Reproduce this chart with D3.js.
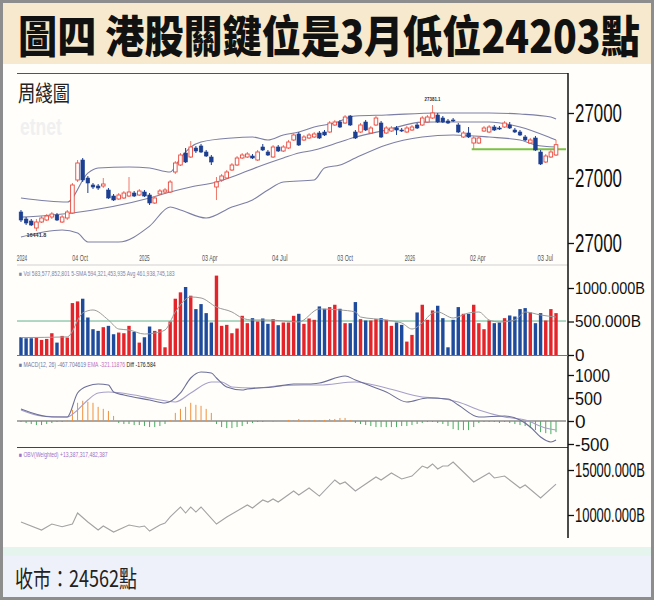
<!DOCTYPE html>
<html><head><meta charset="utf-8">
<script src="https://cdn.jsdelivr.net/npm/d3@7"></script>
<style>body{margin:0;background:#fff}svg{display:block}</style>
</head><body><svg id="c" width="654" height="600"></svg>
<script>
// ---------- DATA ----------
const titleText = "圖四 港股關鍵位是3月低位24203點";
const panelTitle = "周綫圖";
const footerText = "收市：24562點";
// weekly candles [open, high, low, close]
const candles = [
[19385,19538,18615,18769],[18846,19000,18385,18538],[18692,18846,18308,18385],[18154,18846,17923,18615],[18615,19077,18538,18923],
[18769,19231,18692,19077],[19000,19385,18846,19231],[19154,19308,18692,18769],[18615,19154,18538,19000],[18923,19538,18769,19385],
[19308,21615,19231,21462],[21846,23385,21692,23154],[23385,23538,21692,21846],[22000,22154,20846,21615],[21462,21615,21154,21308],
[21385,21538,21077,21231],[21385,22000,21231,21538],[21077,21231,20385,20462],[20615,20769,20231,20308],[20385,20846,20308,20692],
[20462,21000,20385,20846],[20615,22077,20538,20923],[20846,21000,20538,20615],[20692,21154,20615,21000],[20923,21077,20538,20615],
[20692,20846,19923,20077],[20077,20615,20000,20462],[20769,21154,20692,21000],[20923,21231,20846,21077],[20923,21846,20846,21692],
[22462,23308,22308,23154],[23000,23923,22923,23769],[23923,24308,23154,23231],[23615,24846,23538,24385],[24308,24462,23923,24077],
[24462,24615,23923,24000],[24000,24154,23615,23692],[23615,23769,23000,23231],[21308,22077,20308,21692],[21846,22308,21692,22154],
[22000,22615,21923,22462],[22615,23154,22538,23000],[23000,23692,22923,23538],[23538,23923,23462,23769],[23615,24000,23538,23846],
[23692,23846,23462,23538],[23385,24154,23308,24000],[24385,24615,24077,24154],[24000,24154,23692,23769],[23615,24538,23538,24385],
[24385,24538,24000,24077],[24077,24538,24000,24385],[24308,24923,24231,24769],[24923,25462,24846,25308],[25385,25538,24462,24538],
[24923,25308,24846,25154],[25077,25462,25000,25308],[25154,25538,25077,25385],[25462,25615,25000,25077],[25538,25692,25231,25308],
[25538,26385,25462,26231],[26077,26462,26000,26308],[26308,26462,25846,25923],[26231,26846,26154,26692],[26769,26846,26000,26077],
[25538,25692,25000,25077],[25538,26231,25462,26077],[26308,26462,25615,25692],[25462,26000,25385,25846],[26077,26769,26000,26615],
[26231,26385,25077,25154],[25462,26000,25385,25846],[25615,26000,25538,25846],[25846,26000,25308,25692],[25692,25846,25538,25615],
[25538,26000,25462,25846],[25692,26077,25615,25923],[26077,26231,25769,25846],[26077,26769,26000,26615],[26308,26846,26231,26692],
[26615,27615,26538,27000],[26846,27000,26231,26308],[26615,26769,26231,26308],[26385,26538,26154,26231],[26462,26615,26308,26385],
[26077,26231,25462,25538],[25154,25615,25077,25462],[25462,25923,25077,25154],[24692,25231,24203,25077],[24692,25231,24615,25077],
[25615,26000,25538,25846],[25538,26077,25462,25923],[25923,26077,25615,25692],[25846,26000,25692,25769],[25923,26385,25846,26231],
[26077,26308,25769,25846],[25692,25846,25462,25538],[25538,25692,25231,25308],[25154,25308,24846,24923],[24692,25077,24615,24923],
[25077,25231,24077,24154],[24000,24154,23000,23077],[23231,23846,23154,23692],[23615,24154,23538,24000],[23769,24923,23692,24562]
];
// Bollinger bands [week index, value]
const bbUpper = [[0,20460],[9,20150],[13,22380],[15,22770],[21,22850],[25,22770],[29,22460],[31,23540],[33,24380],[35,24770],[41,25080],[45,25150],[48,24920],[51,25310],[54,25540],[57,25920],[61,26230],[65,26770],[71,26850],[81,27000],[91,27000],[97,26920],[103,26690],[104,26540]];
const bbMiddle = [[0,18990],[10,19310],[25,20460],[29,20920],[33,21310],[38,21690],[42,22230],[46,22850],[51,23540],[54,23920],[57,24150],[62,24770],[65,25150],[71,25690],[78,26300],[84,26310],[91,26310],[97,25920],[103,25080],[104,24920]];
const bbLower = [[0,17460],[8,18000],[11,17770],[13,17080],[19,17080],[25,18300],[29,19770],[31,19540],[36,18920],[41,19770],[45,20310],[48,21080],[51,21690],[57,21850],[59,22770],[62,23000],[65,23540],[71,24540],[78,25150],[84,25310],[91,25150],[97,24920],[100,24540],[104,24380]];
const supportLevel = 24203;
const supportFrom = 88;
const peakLabel = "27381.1", lowLabel = "16441.8";
// volume (B)
const volume = [265,250,250,260,225,240,325,185,285,260,775,800,840,560,385,360,415,435,310,335,
325,435,345,185,265,425,360,385,115,500,840,935,1015,885,685,760,625,485,1185,435,
450,325,395,585,475,550,500,545,465,535,445,485,485,585,615,465,545,525,
725,690,715,750,690,475,475,790,535,515,515,535,550,525,435,485,450,200,300,635,
750,525,665,735,550,115,525,715,615,615,750,475,385,515,475,485,550,590,575,685,
700,635,475,625,515,685,625];
const volMA = [[0,260],[9,270],[12,627],[14,672],[17,522],[19,388],[21,373],[24,313],[26,328],[28,373],[30,642],[33,866],[35,851],[38,716],[41,642],[43,552],[45,522],[48,522],[54,493],[58,687],[62,672],[65,642],[66,567],[71,522],[74,478],[76,388],[78,478],[80,627],[81,642],[84,552],[87,627],[89,642],[91,522],[93,493],[96,522],[98,642],[101,597],[104,567]];
const volAvg = 507;
// MACD
const macdLine = [[0,261],[6,87],[9,87],[11,609],[13,761],[15,804],[17,783],[18,630],[20,565],[25,457],[28,391],[31,609],[33,935],[35,1065],[37,1043],[38,935],[40,739],[43,674],[44,696],[49,739],[53,804],[56,804],[58,826],[63,978],[65,891],[69,717],[71,630],[75,413],[79,500],[83,478],[85,348],[89,87],[94,109],[97,22],[99,-130],[101,-348],[103,-457],[104,-413]];
const signalLine = [[0,239],[4,109],[9,87],[11,239],[13,457],[15,609],[17,630],[22,565],[26,478],[30,413],[33,609],[37,848],[39,848],[41,739],[45,717],[50,761],[55,783],[58,783],[65,848],[71,717],[78,522],[81,500],[85,413],[89,239],[94,87],[98,22],[102,-152],[104,-196]];
const macdHist = [-22,-44,-66,-88,-88,-66,-44,-22,-22,22,
242,396,440,418,396,308,264,220,110,-44,
-66,-66,-88,-88,-110,-132,-132,-110,-66,22,
176,264,308,396,352,330,264,176,-66,-132,
-154,-154,-132,-110,-66,-44,-22,-22,0,-11,
0,0,22,22,44,22,22,22,22,22,
44,44,66,66,22,-44,-66,-88,-110,-132,
-132,-132,-132,-132,-110,-110,-88,-66,-44,-22,
-22,-44,-66,-110,-176,-198,-198,-198,-132,-44,
-22,-22,-22,-44,-22,-44,-66,-88,-110,-154,
-198,-242,-264,-286,-242];
// OBV (B)
const obv = [[0,9220],[4,8330],[6,9000],[8,8700],[10,9000],[11,10220],[13,9220],[15,8330],[16,8780],[18,8110],[21,8890],[23,8670],[24,8780],[25,8220],[27,8890],[28,9110],[29,9780],[31,10890],[32,10220],[33,10890],[34,10330],[35,10890],[38,9000],[40,9780],[44,11110],[45,10780],[47,11670],[48,11440],[49,11780],[50,11440],[53,12670],[54,12220],[56,13000],[58,12100],[61,13890],[62,13440],[63,13670],[65,12670],[69,14220],[70,13890],[72,14670],[74,14000],[76,14330],[78,15440],[79,15220],[80,15670],[81,15110],[82,15440],[83,15440],[84,15890],[88,13670],[91,14670],[92,14110],[94,14330],[97,13000],[98,13330],[101,11890],[104,13440]];
// axes
const dateTicks = [0.2,11.5,24,36.7,50.3,63,75.6,88.8,101.9];
const dateLabels = ["2024","04 Oct","2025","03 Apr","04 Jul","03 Oct","2026","02 Apr","03 Jul"];
const priceTicks = [27000,22000,17000];
const priceTickLabels = ["27000","27000","27000"];
const volTicks = [1000,500,0];
const volTickLabels = ["1000.000B","500.000B","0"];
const macdTicks = [1000,500,0,-500];
const macdTickLabels = ["1000","500","0","-500"];
const obvTicks = [15000,10000];
const obvTickLabels = ["15000.000B","10000.000B"];
const legVol = "\u25A0 Vol 583,577,852,801  5-SMA 594,321,453,935  Avg 461,938,745,183";
const legMacd = ["\u25A0 MACD(12, 26) -467.704619 ","EMA -321.11876 ","Diff -176.584"];
const legObv = "\u25A0 OBV(Weighted) +13,387,317,482,387";

// ---------- DRAW ----------
const W=654,H=600;
const svg=d3.select('#c');
const FONT="'Liberation Sans', Arial, sans-serif";
const CJK="'Noto Sans CJK TC','Noto Sans CJK SC',sans-serif";
// horizontally squeeze a text to a given width, keeping its anchor x fixed
function fit(sel,w){
  sel.each(function(){
    const t=d3.select(this); const nat=this.getComputedTextLength();
    if(!nat||!w) return;
    const sx=w/nat; const ax=+t.attr('x')||0;
    t.attr('transform',`translate(${ax*(1-sx)},0) scale(${sx},1)`);
  });
}

svg.append('rect').attr('width',W).attr('height',H).attr('fill','#fffefb');
svg.append('rect').attr('x',0).attr('y',0).attr('width',W).attr('height',64).attr('fill','#f6e9cd');
svg.append('rect').attr('x',0).attr('y',547).attr('width',W).attr('height',9).attr('fill','#e5f5ee');
svg.append('rect').attr('x',0).attr('y',556).attr('width',W).attr('height',H-556).attr('fill','#eef1f9');
svg.append('rect').attr('x',1.5).attr('y',1.5).attr('width',W-3).attr('height',H-3).attr('fill','none').attr('stroke','#8d8d8d').attr('stroke-width',3);

svg.append('text').attr('x',18).attr('y',53).attr('font-family',CJK).attr('font-weight',900).attr('font-size',44).attr('fill','#111').text(titleText).call(fit,622);
svg.append('text').attr('x',15).attr('y',587).attr('font-family',CJK).attr('font-size',23).attr('fill','#222').text(footerText).call(fit,122);

const n=candles.length;
const x=d3.scaleLinear().domain([-0.5,n-0.5]).range([18.4,558.6]);
const yP=d3.scaleLinear().domain([17000,27000]).range([243,113]);
const yV=d3.scaleLinear().domain([0,1000]).range([355,288]);
const yM=d3.scaleLinear().domain([0,1000]).range([421,375]);
const yO=d3.scaleLinear().domain([10000,15000]).range([515,470]);
const L=17, R=566, AX=568;

// panel frame lines
svg.append('line').attr('x1',L).attr('x2',AX).attr('y1',73.5).attr('y2',73.5).attr('stroke','#555').attr('stroke-width',1.2);
svg.append('line').attr('x1',L).attr('x2',AX).attr('y1',265).attr('y2',265).attr('stroke','#d0d0d0');
svg.append('line').attr('x1',L).attr('x2',AX).attr('y1',447.5).attr('y2',447.5).attr('stroke','#444').attr('stroke-width',1.2);
svg.append('line').attr('x1',AX).attr('x2',AX).attr('y1',73).attr('y2',538).attr('stroke','#111').attr('stroke-width',1.5);

svg.append('text').attr('x',18).attr('y',101).attr('font-family',CJK).attr('font-size',22).attr('fill','#222').text(panelTitle).call(fit,52);
svg.append('text').attr('x',20).attr('y',135).attr('font-family',FONT).attr('font-weight','bold').attr('font-size',24).attr('fill','#f0f0f0').text('etnet').call(fit,42);

// Bollinger
const line=d3.line().x(d=>x(d[0])).curve(d3.curveMonotoneX);
[bbUpper,bbMiddle,bbLower].forEach(s=>{
  svg.append('path').datum(s).attr('d',line.y(d=>yP(d[1]))).attr('fill','none').attr('stroke','#7c7fa5').attr('stroke-width',1.1);
});
// support line
svg.append('line').attr('x1',x(supportFrom)-2).attr('x2',R).attr('y1',yP(supportLevel)).attr('y2',yP(supportLevel)).attr('stroke','#7dc142').attr('stroke-width',2);

// candles
const UP='#e8463a', DN='#1d3f91', cw=3.6;
const cg=svg.append('g');
candles.forEach((c,i)=>{
  const up=c[3]>=c[0], col=up?UP:DN, cx=x(i);
  cg.append('line').attr('x1',cx).attr('x2',cx).attr('y1',yP(c[1])).attr('y2',yP(c[2])).attr('stroke',up?'#ee7a6a':DN).attr('stroke-width',1);
  const top=yP(Math.max(c[0],c[3])), bot=yP(Math.min(c[0],c[3]));
  cg.append('rect').attr('x',cx-cw/2).attr('y',top).attr('width',cw).attr('height',Math.max(1,bot-top))
    .attr('fill',up?'#fff':DN).attr('stroke',col).attr('stroke-width',up?0.9:0.6);
});
// high / low markers
const hiIdx=d3.maxIndex(candles,d=>d[1]), loIdx=d3.minIndex(candles,d=>d[2]);
svg.append('text').attr('x',x(hiIdx)).attr('y',yP(candles[hiIdx][1])-4).attr('text-anchor','middle').attr('font-family',FONT).attr('font-size',6).attr('font-weight','bold').attr('fill','#333').text(peakLabel).call(fit,16);
svg.append('text').attr('x',x(loIdx)).attr('y',yP(candles[loIdx][2])+6).attr('text-anchor','middle').attr('font-family',FONT).attr('font-size',6).attr('font-weight','bold').attr('fill','#333').text(lowLabel).call(fit,20);

// date labels
dateTicks.forEach((t,i)=>{
  svg.append('text').attr('x',x(t)).attr('y',261).attr('text-anchor','middle').attr('font-family',FONT).attr('font-size',8.5).attr('fill','#555').text(dateLabels[i]).call(fit,dateLabels[i].length*2.6);
});

// volume
svg.append('text').attr('x',19).attr('y',276).attr('font-family',FONT).attr('font-size',6.5).attr('fill','#7d86aa').text(legVol).call(fit,156);
svg.append('line').attr('x1',L).attr('x2',R).attr('y1',yV(volAvg)).attr('y2',yV(volAvg)).attr('stroke','#5fb38c').attr('stroke-width',1);
svg.append('g').selectAll('rect').data(volume).join('rect')
  .attr('x',(d,i)=>x(i)-1.7).attr('width',3.4).attr('y',d=>yV(d)).attr('height',d=>yV(0)-yV(d))
  .attr('fill',(d,i)=>candles[i][3]>=candles[i][0]?'#e3252b':'#1f4b9c');
svg.append('path').datum(volMA).attr('d',d3.line().x(d=>x(d[0])).y(d=>yV(d[1])).curve(d3.curveMonotoneX)).attr('fill','none').attr('stroke','#9a9a9a').attr('stroke-width',1);
svg.append('line').attr('x1',L).attr('x2',AX).attr('y1',yV(0)+0.5).attr('y2',yV(0)+0.5).attr('stroke','#6b7396').attr('stroke-width',1);

// MACD
const lm=svg.append('text').attr('x',19).attr('y',367).attr('font-family',FONT).attr('font-size',6.5);
lm.append('tspan').attr('fill','#6d78a8').text(legMacd[0]);
lm.append('tspan').attr('fill','#c070c0').text(legMacd[1]);
lm.append('tspan').attr('fill','#222').text(legMacd[2]);
lm.call(fit,137);
svg.append('line').attr('x1',L).attr('x2',R).attr('y1',yM(0)).attr('y2',yM(0)).attr('stroke','#555').attr('stroke-width',1);
svg.append('g').selectAll('line').data(macdHist).join('line')
  .attr('x1',(d,i)=>x(i)).attr('x2',(d,i)=>x(i)).attr('y1',yM(0)).attr('y2',d=>yM(d))
  .attr('stroke',d=>d>=0?'#f0903c':'#49ab62').attr('stroke-width',1);
svg.append('path').datum(signalLine).attr('d',d3.line().x(d=>x(d[0])).y(d=>yM(d[1])).curve(d3.curveMonotoneX)).attr('fill','none').attr('stroke','#a69fc8').attr('stroke-width',1.1);
svg.append('path').datum(macdLine).attr('d',d3.line().x(d=>x(d[0])).y(d=>yM(d[1])).curve(d3.curveMonotoneX)).attr('fill','none').attr('stroke','#6c6f98').attr('stroke-width',1.1);

// OBV
svg.append('text').attr('x',19).attr('y',457).attr('font-family',FONT).attr('font-size',6.5).attr('fill','#a070c8').text(legObv).call(fit,89);
svg.append('path').datum(obv).attr('d',d3.line().x(d=>x(d[0])).y(d=>yO(d[1]))).attr('fill','none').attr('stroke','#a3a3a3').attr('stroke-width',1.1);

// axes
function rAxis(scale,ticks,labels,fs,widths){
  const g=svg.append('g').attr('transform',`translate(${AX},0)`)
    .call(d3.axisRight(scale).tickValues(ticks).tickFormat((d,i)=>labels[i]).tickSize(6).tickPadding(1));
  g.select('.domain').remove();
  g.selectAll('.tick line').attr('stroke','#111').attr('stroke-width',1.3);
  g.selectAll('.tick text').attr('font-family',FONT).attr('font-size',fs).attr('fill','#111')
    .each(function(d,i){ if(widths[i]) fit(d3.select(this),widths[i]); });
  return g;
}
rAxis(yP,priceTicks,priceTickLabels,26,[47,47,47]);
rAxis(yV,volTicks,volTickLabels,17,[70,66,0]);
rAxis(yM,macdTicks,macdTickLabels,19,[35,27,0,34]);
rAxis(yO,obvTicks,obvTickLabels,21,[70,70]);
</script></body></html>
